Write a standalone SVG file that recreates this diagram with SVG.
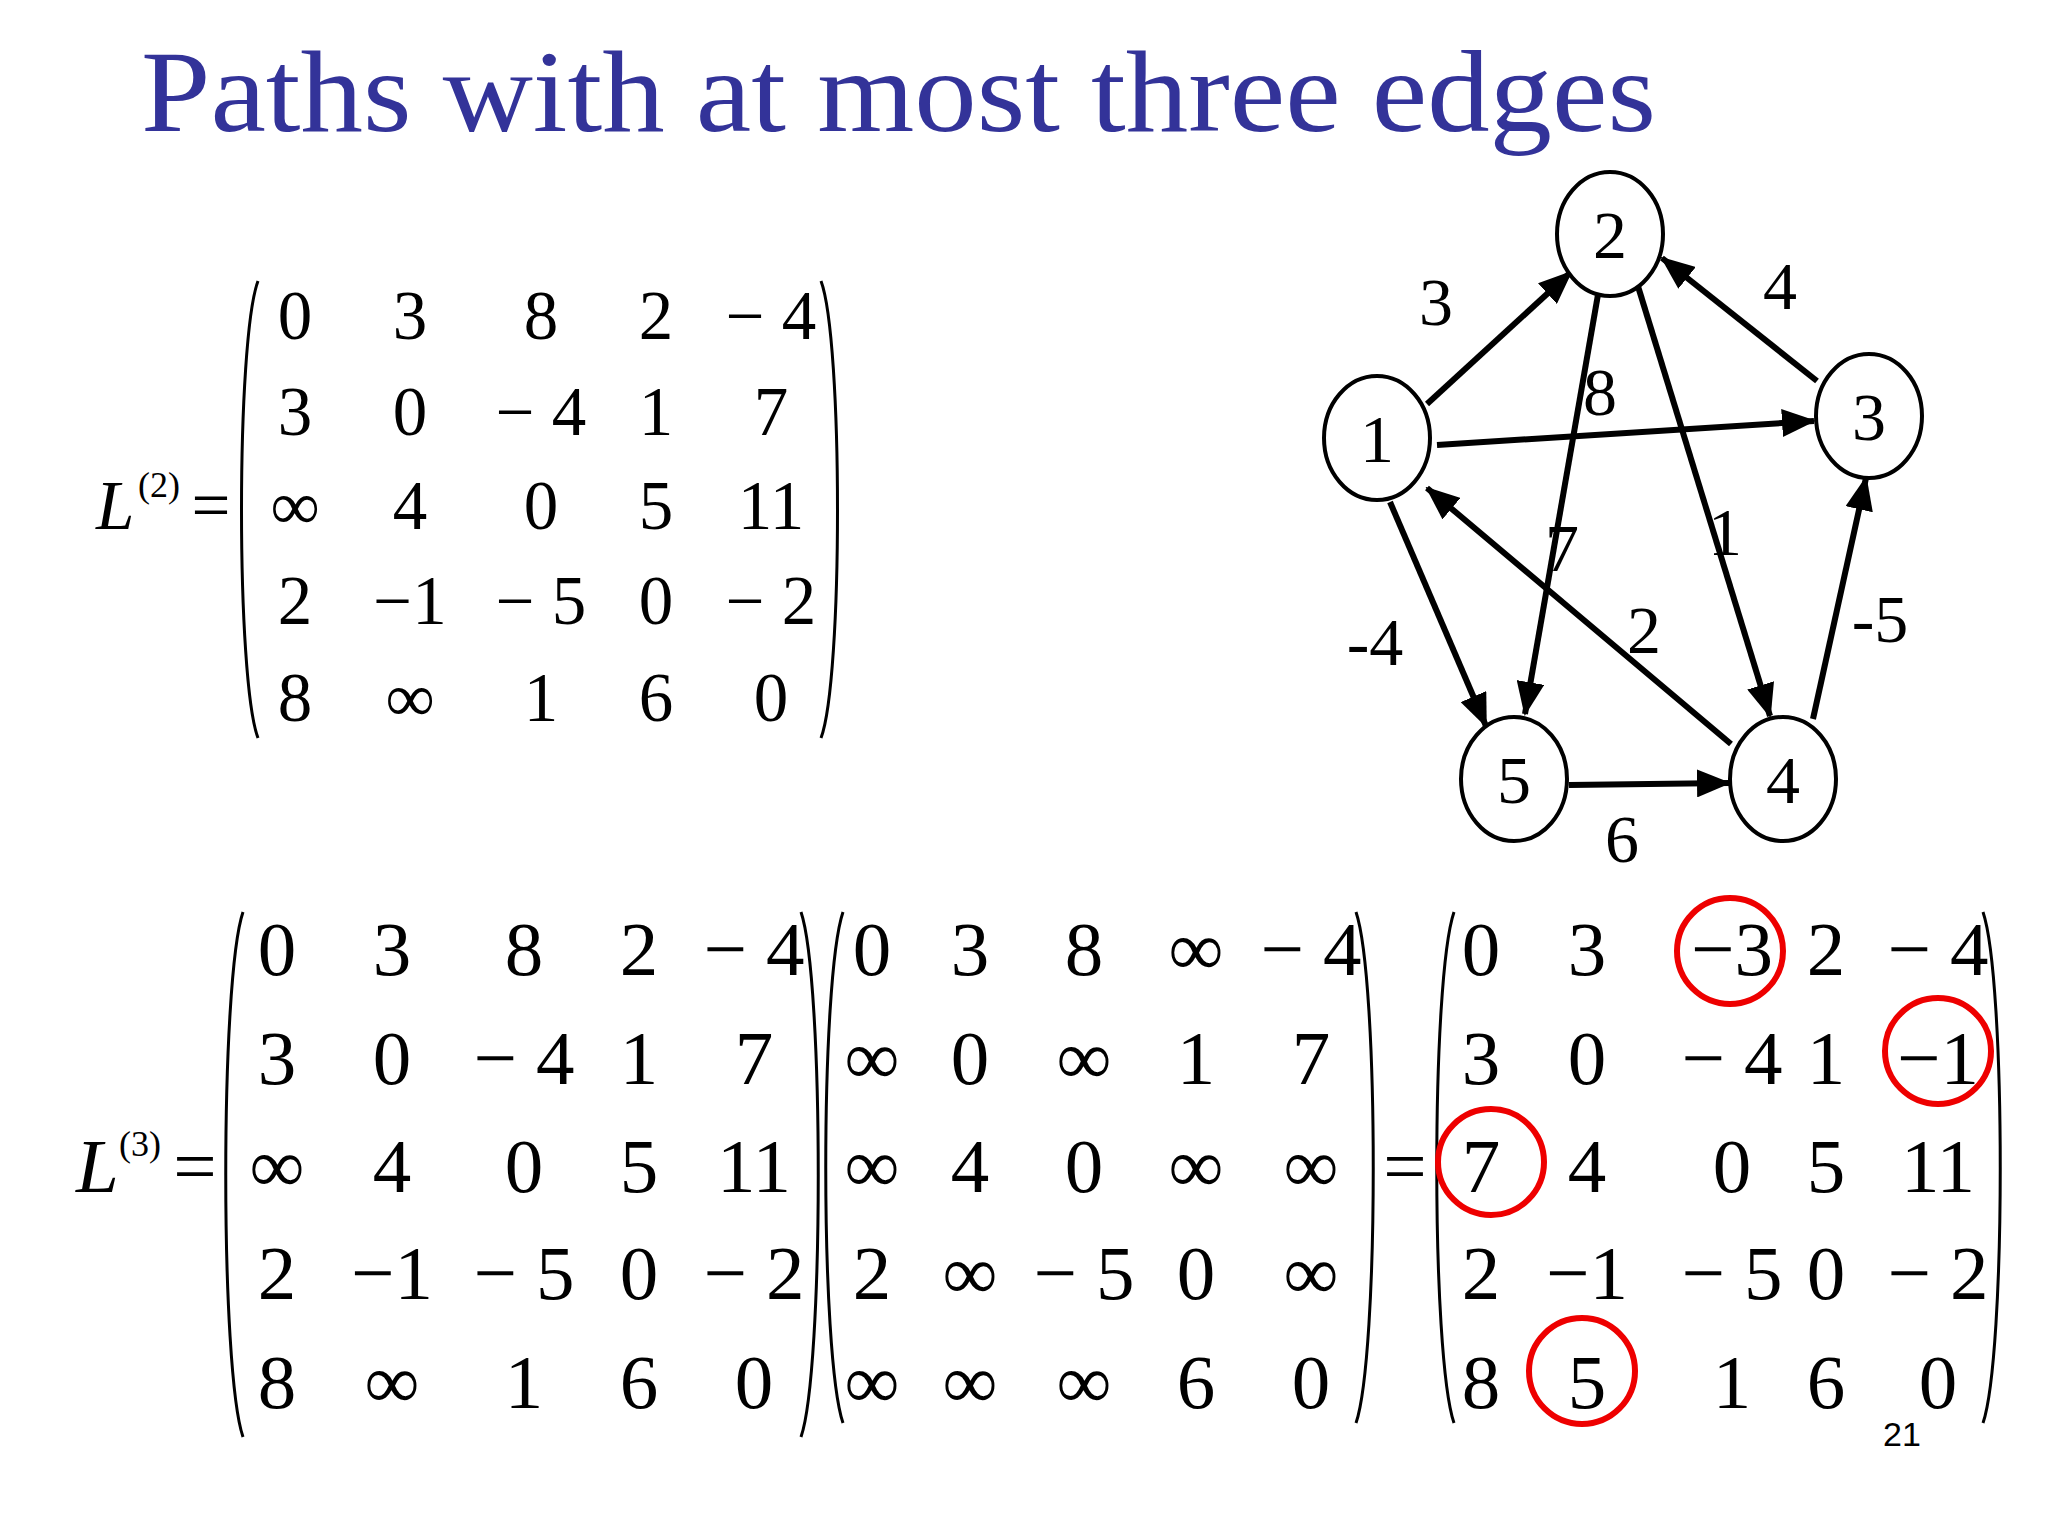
<svg xmlns="http://www.w3.org/2000/svg" width="2048" height="1536" viewBox="0 0 2048 1536">
<defs>
<marker id="ah" markerUnits="userSpaceOnUse" markerWidth="34" markerHeight="28" refX="32" refY="14" orient="auto"><path d="M0,0 L34,14 L0,28 z" fill="#000"/></marker>
<style>
.t{font-family:"Liberation Serif",serif;fill:#000;text-anchor:middle}
.m{font-size:69px}
.b{font-size:77px}
.n{fill:#fff;stroke:#000;stroke-width:4}
.e{stroke:#000;stroke-width:6;fill:none;marker-end:url(#ah)}
.p{fill:none;stroke:#000;stroke-width:3}
.r{fill:none;stroke:#e00;stroke-width:6}
</style>
</defs>
<rect width="2048" height="1536" fill="#fff"/>
<text x="141" y="131" font-family="Liberation Serif,serif" font-size="116" fill="#333399" textLength="1515" lengthAdjust="spacingAndGlyphs">Paths with at most three edges</text>

<g id="connectors">
<line class="e" x1="1427" y1="404" x2="1571" y2="272"/>
<line class="e" x1="1817" y1="381" x2="1662" y2="258"/>
<line class="e" x1="1437" y1="445" x2="1814" y2="421"/>
<line class="e" x1="1600" y1="283" x2="1525" y2="714"/>
<line class="e" x1="1637" y1="283" x2="1770" y2="716"/>
<line class="e" x1="1731" y1="744" x2="1427" y2="488"/>
<line class="e" x1="1390" y1="502" x2="1486" y2="726"/>
<line class="e" x1="1569" y1="785" x2="1729" y2="783"/>
<line class="e" x1="1813" y1="719" x2="1866" y2="478"/>
</g>
<g class="t" font-size="68">
<text x="1436" y="325">3</text>
<text x="1780" y="309">4</text>
<text x="1600" y="415">8</text>
<text x="1725" y="555">1</text>
<text x="1562" y="571">7</text>
<text x="1644" y="653">2</text>
<text x="1375" y="665">-4</text>
<text x="1880" y="642">-5</text>
<text x="1622" y="862">6</text>
</g>
<g id="n1"><ellipse class="n" cx="1377" cy="438" rx="53" ry="62"/><text class="t" x="1377" y="462" font-size="68">1</text></g>
<g id="n2"><ellipse class="n" cx="1610" cy="234" rx="53" ry="62"/><text class="t" x="1610" y="258" font-size="68">2</text></g>
<g id="n3"><ellipse class="n" cx="1869" cy="416" rx="53" ry="62"/><text class="t" x="1869" y="440" font-size="68">3</text></g>
<g id="n4"><ellipse class="n" cx="1783" cy="779" rx="53" ry="62"/><text class="t" x="1783" y="803" font-size="68">4</text></g>
<g id="n5"><ellipse class="n" cx="1514" cy="779" rx="53" ry="62"/><text class="t" x="1514" y="803" font-size="68">5</text></g>

<g id="L2">
<text x="96" y="529" font-family="Liberation Serif,serif" font-size="69" font-style="italic">L</text>
<text x="138" y="497" font-family="Liberation Serif,serif" font-size="36">(2)</text>
<text x="211" y="529" class="t m">=</text>
<path class="p" d="M258,281 C236,340 236,680 258,738"/>
<path class="p" d="M821,281 C843,340 843,680 821,738"/>
<g class="t m">
<text x="295" y="339">0</text><text x="410" y="339">3</text><text x="541" y="339">8</text><text x="656" y="339">2</text><text x="771" y="339">− 4</text>
<text x="295" y="435">3</text><text x="410" y="435">0</text><text x="541" y="435">− 4</text><text x="656" y="435">1</text><text x="771" y="435">7</text>
<text x="295" y="529">∞</text><text x="410" y="529">4</text><text x="541" y="529">0</text><text x="656" y="529">5</text><text x="771" y="529">11</text>
<text x="295" y="624">2</text><text x="410" y="624">−1</text><text x="541" y="624">− 5</text><text x="656" y="624">0</text><text x="771" y="624">− 2</text>
<text x="295" y="721">8</text><text x="410" y="721">∞</text><text x="541" y="721">1</text><text x="656" y="721">6</text><text x="771" y="721">0</text>
</g>
</g>

<g id="L3">
<text x="76" y="1192" font-family="Liberation Serif,serif" font-size="77" font-style="italic">L</text>
<text x="119" y="1156" font-family="Liberation Serif,serif" font-size="36">(3)</text>
<text x="195" y="1192" class="t b">=</text>
<path class="p" d="M243,912 C220,980 220,1370 243,1437"/>
<path class="p" d="M801,912 C824,980 824,1370 801,1437"/>
<path class="p" d="M843,912 C820,980 820,1355 843,1423"/>
<path class="p" d="M1356,912 C1379,980 1379,1355 1356,1423"/>
<text x="1405" y="1192" class="t b">=</text>
<path class="p" d="M1454,912 C1431,980 1431,1355 1454,1423"/>
<path class="p" d="M1983,912 C2006,980 2006,1355 1983,1423"/>
<g class="t b">
<text x="277" y="975">0</text><text x="392" y="975">3</text><text x="524" y="975">8</text><text x="639" y="975">2</text><text x="754" y="975">− 4</text>
<text x="277" y="1084">3</text><text x="392" y="1084">0</text><text x="524" y="1084">− 4</text><text x="639" y="1084">1</text><text x="754" y="1084">7</text>
<text x="277" y="1192">∞</text><text x="392" y="1192">4</text><text x="524" y="1192">0</text><text x="639" y="1192">5</text><text x="754" y="1192">11</text>
<text x="277" y="1299">2</text><text x="392" y="1299">−1</text><text x="524" y="1299">− 5</text><text x="639" y="1299">0</text><text x="754" y="1299">− 2</text>
<text x="277" y="1408">8</text><text x="392" y="1408">∞</text><text x="524" y="1408">1</text><text x="639" y="1408">6</text><text x="754" y="1408">0</text>

<text x="872" y="975">0</text><text x="970" y="975">3</text><text x="1084" y="975">8</text><text x="1196" y="975">∞</text><text x="1311" y="975">− 4</text>
<text x="872" y="1084">∞</text><text x="970" y="1084">0</text><text x="1084" y="1084">∞</text><text x="1196" y="1084">1</text><text x="1311" y="1084">7</text>
<text x="872" y="1192">∞</text><text x="970" y="1192">4</text><text x="1084" y="1192">0</text><text x="1196" y="1192">∞</text><text x="1311" y="1192">∞</text>
<text x="872" y="1299">2</text><text x="970" y="1299">∞</text><text x="1084" y="1299">− 5</text><text x="1196" y="1299">0</text><text x="1311" y="1299">∞</text>
<text x="872" y="1408">∞</text><text x="970" y="1408">∞</text><text x="1084" y="1408">∞</text><text x="1196" y="1408">6</text><text x="1311" y="1408">0</text>

<text x="1481" y="975">0</text><text x="1587" y="975">3</text><text x="1732" y="975">−3</text><text x="1826" y="975">2</text><text x="1938" y="975">− 4</text>
<text x="1481" y="1084">3</text><text x="1587" y="1084">0</text><text x="1732" y="1084">− 4</text><text x="1826" y="1084">1</text><text x="1938" y="1084">−1</text>
<text x="1481" y="1192">7</text><text x="1587" y="1192">4</text><text x="1732" y="1192">0</text><text x="1826" y="1192">5</text><text x="1938" y="1192">11</text>
<text x="1481" y="1299">2</text><text x="1587" y="1299">−1</text><text x="1732" y="1299">− 5</text><text x="1826" y="1299">0</text><text x="1938" y="1299">− 2</text>
<text x="1481" y="1408">8</text><text x="1587" y="1408">5</text><text x="1732" y="1408">1</text><text x="1826" y="1408">6</text><text x="1938" y="1408">0</text>
</g>
<circle class="r" cx="1730" cy="951" r="53"/>
<circle class="r" cx="1938" cy="1051" r="53"/>
<circle class="r" cx="1491" cy="1162" r="53"/>
<circle class="r" cx="1582" cy="1371" r="53"/>
</g>
<text x="1902" y="1446" font-family="Liberation Sans,sans-serif" font-size="34" text-anchor="middle">21</text>
</svg>
